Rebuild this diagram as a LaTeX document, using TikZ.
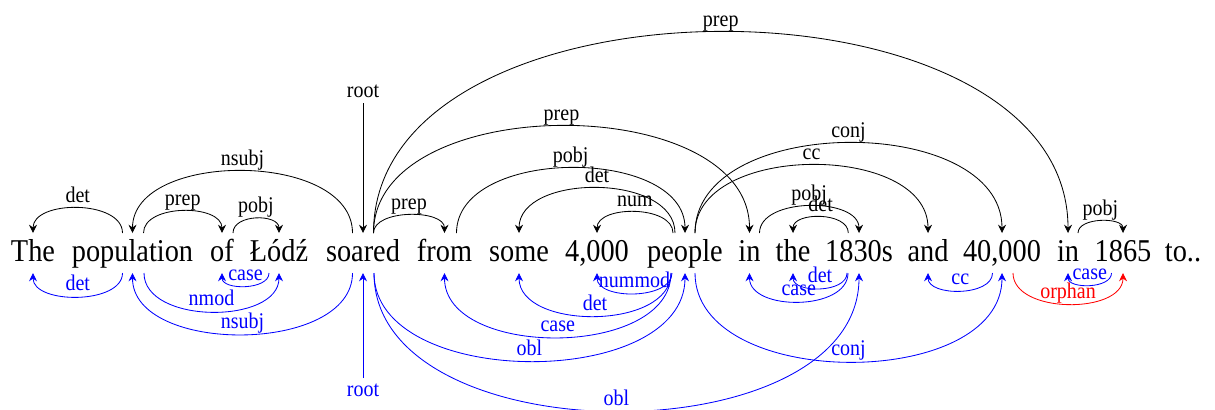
\documentclass[tikz,border=0pt]{standalone}
\usepackage{fontspec}
\setmainfont{Liberation Serif}
\usepackage{graphicx}
\usetikzlibrary{calc,arrows.meta}
\newcommand{\vs}[1]{\scalebox{1}[1.12]{#1}}
% \depup{name}{from}{xoff}{to}{peak}{label}{style}
\newcommand{\depup}[7]{%
  \draw[#7] ($(#2.base)+(#3,-28)$) .. controls ($(#2.base)+(#3,{-28-(#5)*4/3})$) and ($(#4.base)+(0,{-28-(#5)*4/3})$) .. ($(#4.base)+(0,-28)$)
    node[lab,pos=0.5,yshift=3.6pt] (#1) {\vs{#6}};}
\newcommand{\depdn}[7]{%
  \draw[#7] ($(#2.base)+(#3,12)$) .. controls ($(#2.base)+(#3,{12+(#5)*4/3})$) and ($(#4.base)+(0,{12+(#5)*4/3})$) .. ($(#4.base)+(0,12)$)
    node[lab,pos=0.5,yshift=3.6pt] (#1) {\vs{#6}};}
\tikzset{
  word/.style={anchor=base, inner sep=0pt, font=\fontsize{17}{20}\selectfont},
  lab/.style={anchor=base, inner sep=0pt, font=\fontsize{12}{14}\selectfont},
  dep/.style={line width=0.5pt, -{Stealth[length=5pt,width=4.8pt,inset=1.7pt]}},
  ud/.style={dep, blue},
  orph/.style={dep, red}
}
\begin{document}
\begin{tikzpicture}[x=0.6pt,y=-0.6pt]
\useasboundingbox (0,0) rectangle (1215,409);
\node[word] (w1) at (33,261) {\vs{The}};
\node[word] (w2) at (132.5,261) {\vs{population}};
\node[word] (w3) at (222,261) {\vs{of}};
\node[word] (w4) at (279,261) {\vs{Łódź}};
\node[word] (w5) at (363,261) {\vs{soared}};
\node[word] (w6) at (444.5,261) {\vs{from}};
\node[word] (w7) at (519,261) {\vs{some}};
\node[word] (w8) at (597,261) {\vs{4,000}};
\node[word] (w9) at (685,261) {\vs{people}};
\node[word] (w10) at (749.5,261) {\vs{in}};
\node[word] (w11) at (793,261) {\vs{the}};
\node[word] (w12) at (859,261) {\vs{1830s}};
\node[word] (w13) at (928,261) {\vs{and}};
\node[word] (w14) at (1002,261) {\vs{40,000}};
\node[word] (w15) at (1068,261) {\vs{in}};
\node[word] (w16) at (1123,261) {\vs{1865}};
\node[word] (w17) at (1183,261) {\vs{to..}};
% top (black)
\depup{a1}{w2}{-10}{w1}{25}{det}{dep}
\depup{a2}{w2}{11}{w3}{22}{prep}{dep}
\depup{a3}{w3}{11}{w4}{14.5}{pobj}{dep}
\depup{a4}{w5}{-10.5}{w2}{62}{nsubj}{dep}
\depup{a5}{w5}{10.5}{w6}{18}{prep}{dep}
\depup{a6}{w5}{10.5}{w10}{107}{prep}{dep}
\depup{a7}{w5}{10.5}{w15}{201}{prep}{dep}
\depup{a8}{w6}{12}{w9}{65}{pobj}{dep}
\depup{a9}{w9}{-10}{w7}{45}{det}{dep}
\depup{a10}{w9}{-12}{w8}{21}{num}{dep}
\depup{a11}{w9}{10}{w14}{90}{conj}{dep}
\depup{a12}{w9}{10}{w13}{68}{cc}{dep}
\depup{a13}{w10}{10}{w12}{27}{pobj}{dep}
\depup{a14}{w12}{-10.7}{w11}{16}{det}{dep}
\depup{a15}{w15}{10}{w16}{12}{pobj}{dep}
\coordinate (rt) at ($(w5.base)+(0,-158)$);
\draw[dep] (rt) -- ($(w5.base)+(0,-28)$);
\node[lab] (lrt) at ($(rt)+(0,-6)$) {\vs{root}};
% bottom (blue)
\depdn{b1}{w2}{-10}{w1}{23.7}{det}{ud}
\depdn{b2}{w4}{-10}{w3}{13}{case}{ud}
\depdn{b3}{w2}{11.5}{w4}{38.7}{nmod}{ud}
\depdn{b4}{w5}{-10.5}{w2}{61.3}{nsubj}{ud}
\depdn{b5}{w9}{-13}{w8}{20.3}{nummod}{ud}
\depdn{b6}{w9}{-14}{w7}{43}{det}{ud}
\depdn{b7}{w9}{-14}{w6}{64.3}{case}{ud}
\depdn{b8}{w5}{11}{w9}{88}{obl}{ud}
\depdn{b9}{w5}{11}{w12}{138}{obl}{ud}
\depdn{b10}{w12}{-11}{w10}{28.7}{case}{ud}
\depdn{b11}{w12}{-12}{w11}{15.3}{det}{ud}
\depdn{b12}{w14}{-9.5}{w13}{17.7}{cc}{ud}
\depdn{b13}{w9}{10}{w14}{88.7}{conj}{ud}
\depdn{b14}{w16}{-11.5}{w15}{12}{case}{ud}
\depdn{b15}{w14}{11}{w16}{31}{orphan}{orph}
\coordinate (rb) at ($(w5.base)+(0,117)$);
\draw[ud] (rb) -- ($(w5.base)+(0,12)$);
\node[lab,blue] (lrb) at ($(rb)+(0,18.7)$) {\vs{root}};
\end{tikzpicture}
\end{document}
